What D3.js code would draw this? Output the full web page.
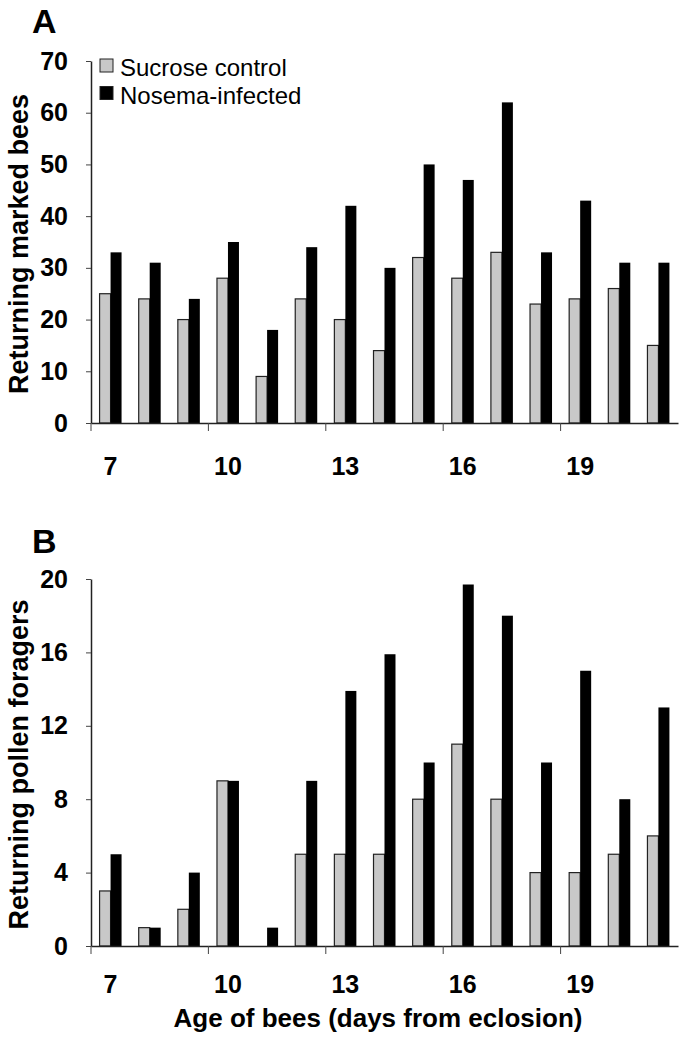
<!DOCTYPE html>
<html>
<head>
<meta charset="utf-8">
<script src="https://d3js.org/d3.v7.min.js"></script>
<style>
  body { margin: 0; background: #fff; }
  svg text { font-family: "Liberation Sans", Arial, sans-serif; fill: #000; }
</style>
</head>
<body>
<div id="grafico"></div>
<script>
// data
const dias = [7, 8, 9, 10, 11, 12, 13, 14, 15, 16, 17, 18, 19, 20, 21];
const etiquetasX = [7, 10, 13, 16, 19];
const series = ["Sucrose control", "Nosema-infected"];

const marcadasSucrosa = [25, 24, 20, 28, 9, 24, 20, 14, 32, 28, 33, 23, 24, 26, 15];
const marcadasNosema = [33, 31, 24, 35, 18, 34, 42, 30, 50, 47, 62, 33, 43, 31, 31];
const ticksA = [0, 10, 20, 30, 40, 50, 60, 70];

const polenSucrosa = [3, 1, 2, 9, 0, 5, 5, 5, 8, 11, 8, 4, 4, 5, 6];
const polenNosema = [5, 1, 4, 9, 1, 9, 13.9, 15.9, 10, 19.7, 18, 10, 15, 8, 13];
const ticksB = [0, 4, 8, 12, 16, 20];

const colores = ["#c8c8c8", "#000000"];

const ancho = 690, alto = 1045;
const izq = 91, der = 678;

const svg = d3.select("#grafico").append("svg")
    .attr("width", ancho)
    .attr("height", alto);

const x = d3.scaleBand().domain(dias).range([izq, der]).paddingInner(0).paddingOuter(0);
const xSerie = d3.scaleBand().domain(series).range([0, x.bandwidth()]).paddingInner(0).paddingOuter(0.78);

function panel(letra, yLetra, top, bottom, maxY, ticks, sucrosa, nosema, tituloY, dyEtiquetas) {
    const y = d3.scaleLinear().domain([0, maxY]).range([bottom, top]);
    const g = svg.append("g");

    // bars
    const valores = [sucrosa, nosema];
    valores.forEach((vals, s) => {
        g.selectAll(null)
            .data(dias)
            .enter().append("rect")
            .attr("x", (d) => x(d) + xSerie(series[s]))
            .attr("y", (d, i) => y(vals[i]))
            .attr("width", xSerie.bandwidth())
            .attr("height", (d, i) => bottom - y(vals[i]))
            .attr("fill", colores[s])
            .attr("stroke", s === 0 ? "#222" : "none")
            .attr("stroke-width", 1.2);
    });

    // y axis
    const ejeY = g.append("g")
        .attr("transform", "translate(" + izq + ",0)")
        .call(d3.axisLeft(y).tickValues(ticks).tickSize(5).tickPadding(18).tickSizeOuter(0));
    ejeY.select(".domain").attr("stroke", "#222").attr("stroke-width", 1.5);
    ejeY.selectAll(".tick line").attr("stroke", "#444").attr("stroke-width", 1);
    ejeY.selectAll("text")
        .style("font-size", "25px")
        .style("font-weight", "bold")
        .attr("fill", "#000");

    // x axis
    const ejeX = g.append("g")
        .attr("transform", "translate(0," + bottom + ")")
        .call(d3.axisBottom(x).tickValues(etiquetasX).tickSize(0).tickPadding(dyEtiquetas).tickSizeOuter(0));
    ejeX.select(".domain").attr("stroke", "#222").attr("stroke-width", 1.5);
    ejeX.selectAll("text")
        .style("font-size", "25px")
        .style("font-weight", "bold")
        .attr("fill", "#000");

    // tick marks between categories every 3 days
    g.selectAll(null)
        .data(etiquetasX)
        .enter().append("line")
        .attr("x1", (d) => x(d))
        .attr("x2", (d) => x(d))
        .attr("y1", bottom)
        .attr("y2", bottom + 8)
        .attr("stroke", "#444")
        .attr("stroke-width", 1);

    // y title
    svg.append("text")
        .attr("transform", "translate(28," + ((top + bottom) / 2 + 2) + ") rotate(-90)")
        .attr("text-anchor", "middle")
        .style("font-size", "27px")
        .style("font-weight", "bold")
        .text(tituloY);

    // panel letter
    svg.append("text")
        .attr("x", 32)
        .attr("y", yLetra)
        .style("font-size", "34px")
        .style("font-weight", "bold")
        .text(letra);
}

panel("A", 33, 61, 423, 70, ticksA, marcadasSucrosa, marcadasNosema, "Returning marked bees", 34);
panel("B", 553, 579, 946, 20, ticksB, polenSucrosa, polenNosema, "Returning pollen foragers", 29);

// legend
const leyenda = svg.append("g").attr("transform", "translate(100,59)");
series.forEach((s, i) => {
    leyenda.append("rect")
        .attr("x", 0)
        .attr("y", i * 27.5)
        .attr("width", 13)
        .attr("height", 13)
        .attr("fill", colores[i])
        .attr("stroke", "#222")
        .attr("stroke-width", 1);
    leyenda.append("text")
        .attr("x", 20)
        .attr("y", i * 27.5 + 17)
        .style("font-size", "24px")
        .text(s);
});

// x title
svg.append("text")
    .attr("x", 378)
    .attr("y", 1027)
    .attr("text-anchor", "middle")
    .style("font-size", "26px")
    .style("font-weight", "bold")
    .text("Age of bees (days from eclosion)");
</script>
</body>
</html>
